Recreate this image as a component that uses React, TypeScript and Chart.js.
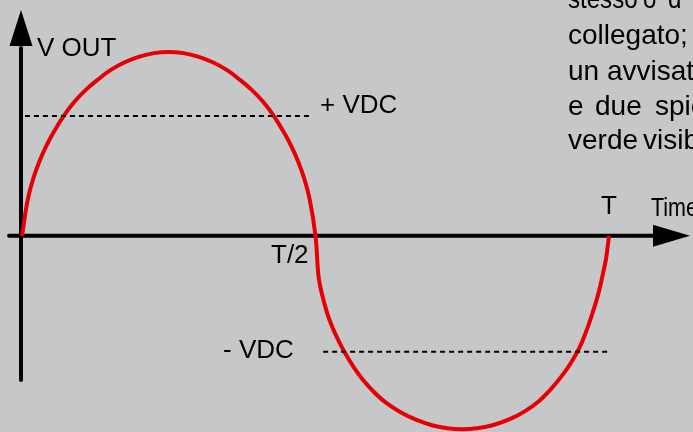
import React, { useEffect, useRef } from "react";
import { Chart, registerables } from "chart.js";

Chart.register(...registerables);

// Time in fractions of the period T, voltage normalised to the positive peak (V OUT = 1)
const waveT = [
  0, 0.01, 0.02, 0.03, 0.04, 0.05, 0.07, 0.09, 0.11, 0.13, 0.15, 0.175, 0.2, 0.225, 0.25,
  0.275, 0.3, 0.325, 0.35, 0.37, 0.39, 0.41, 0.43, 0.45, 0.46, 0.47, 0.48, 0.49, 0.5,
  0.505, 0.51, 0.52, 0.53, 0.54, 0.55, 0.565, 0.58, 0.6, 0.62, 0.645, 0.67, 0.7, 0.725, 0.75,
  0.775, 0.8, 0.83, 0.855, 0.88, 0.9, 0.92, 0.935, 0.95, 0.96, 0.97, 0.98, 0.985, 0.99, 0.995, 1.0,
];
const waveV = [
  0, 0.2, 0.32, 0.408, 0.48, 0.542, 0.648, 0.732, 0.798, 0.852, 0.9, 0.944, 0.975, 0.994, 1.0,
  0.994, 0.975, 0.944, 0.9, 0.852, 0.798, 0.732, 0.648, 0.542, 0.48, 0.408, 0.32, 0.2, 0,
  -0.214, -0.302, -0.42, -0.506, -0.574, -0.634, -0.713, -0.778, -0.849, -0.906, -0.958, -0.997, -1.03, -1.045, -1.05,
  -1.045, -1.03, -0.997, -0.956, -0.899, -0.836, -0.759, -0.69, -0.605, -0.528, -0.438, -0.335, -0.273, -0.2, -0.123, 0,
];
const vdcPlus = 0.652;
const vdcMinus = -0.629;
const vdcPlusSpan = [0.005, 0.4935];
const vdcMinusSpan = [0.513, 1.002];
const axisLabels = ["V OUT", "Time"];
const levelLabels = ["+ VDC", "- VDC"];
const tickLabels = ["T/2", "T"];
const paragraphLines = [
  ["stesso", "o", "d"],
  ["collegato;"],
  ["un", "avvisatore"],
  ["e", "due", "spie"],
  ["verde", "visibile"],
];

const BG = "#c6c7c9";
const RED = "#e60005";
const FONT = '"Liberation Sans", Arial, Helvetica, sans-serif';

const overlay = {
  id: "overlay",
  beforeDraw(chart: any) {
    const { ctx, width, height } = chart;
    ctx.save();
    ctx.fillStyle = BG;
    ctx.fillRect(0, 0, width, height);
    ctx.restore();
  },
  beforeDatasetsDraw(chart: any) {
    const { ctx } = chart;
    const xs = chart.scales.x;
    const ys = chart.scales.y;
    ctx.save();
    ctx.strokeStyle = "#000";
    ctx.fillStyle = "#000";
    ctx.lineWidth = 4;
    ctx.lineCap = "round";
    // vertical axis
    const ax = xs.getPixelForValue(-0.0017);
    const yBottom = ys.getPixelForValue(-0.783);
    const yBase = ys.getPixelForValue(1.033);
    const yTip = ys.getPixelForValue(1.228);
    ctx.beginPath();
    ctx.moveTo(ax, yBottom);
    ctx.lineTo(ax, yBase + 2);
    ctx.stroke();
    ctx.beginPath();
    ctx.moveTo(ax, yTip);
    ctx.lineTo(ax - 11.5, yBase);
    ctx.lineTo(ax + 11.5, yBase);
    ctx.closePath();
    ctx.fill();
    // horizontal axis
    const ay = ys.getPixelForValue(0) - 0.3;
    const xLeft = xs.getPixelForValue(-0.022);
    const xBase = xs.getPixelForValue(1.075);
    const xTip = xs.getPixelForValue(1.138);
    ctx.beginPath();
    ctx.moveTo(xLeft, ay);
    ctx.lineTo(xBase + 2, ay);
    ctx.stroke();
    ctx.beginPath();
    ctx.moveTo(xTip, ay);
    ctx.lineTo(xBase, ay - 11);
    ctx.lineTo(xBase, ay + 11);
    ctx.closePath();
    ctx.fill();
    ctx.restore();
  },
  afterDatasetsDraw(chart: any) {
    const { ctx } = chart;
    ctx.save();
    ctx.fillStyle = "#000";
    ctx.textBaseline = "alphabetic";
    ctx.textAlign = "left";
    ctx.font = `26px ${FONT}`;
    ctx.fillText(axisLabels[0], 37, 56);
    ctx.fillText(levelLabels[0], 320, 113);
    ctx.fillText(levelLabels[1], 223, 358);
    ctx.fillText(tickLabels[0], 271, 263);
    ctx.fillText(tickLabels[1], 601, 214);
    // condensed "Time"
    ctx.save();
    ctx.translate(651, 216);
    ctx.scale(0.86, 1);
    ctx.font = `25px ${FONT}`;
    ctx.fillText(axisLabels[1], 0, 0);
    ctx.restore();
    // cut-off paragraph text
    ctx.font = `28px ${FONT}`;
    const baselines = [8, 44, 80, 115, 149];
    const wordX = [
      [568, 643, 668],
      [568],
      [568, 607],
      [568, 595, 655],
      [568, 643],
    ];
    const squeeze = [0.86, 1, 1, 1, 1];
    paragraphLines.forEach((words, i) => {
      words.forEach((w, j) => {
        ctx.save();
        ctx.translate(wordX[i][j], baselines[i]);
        ctx.scale(squeeze[i], 1);
        ctx.fillText(w, 0, 0);
        ctx.restore();
      });
    });
    ctx.restore();
  },
};

export default function App() {
  const ref = useRef<HTMLCanvasElement | null>(null);
  useEffect(() => {
    if (!ref.current) return;
    const wave = waveT.map((t, i) => ({ x: t, y: waveV[i] }));
    const chart = new Chart(ref.current, {
      type: "line",
      data: {
        datasets: [
          {
            data: vdcPlusSpan.map((t) => ({ x: t, y: vdcPlus })),
            borderColor: "#000",
            borderWidth: 2,
            borderDash: [5, 4],
            pointRadius: 0,
            fill: false,
          },
          {
            data: vdcMinusSpan.map((t) => ({ x: t, y: vdcMinus })),
            borderColor: "#000",
            borderWidth: 2,
            borderDash: [5, 4],
            pointRadius: 0,
            fill: false,
          },
          {
            data: wave,
            borderColor: RED,
            borderWidth: 4,
            pointRadius: 0,
            fill: false,
            tension: 0.4,
          },
        ],
      },
      options: {
        responsive: false,
        animation: false,
        events: [],
        layout: { padding: 0 },
        plugins: { legend: { display: false }, tooltip: { enabled: false } },
        scales: {
          x: { type: "linear", display: false, min: -22 / 587, max: 671 / 587 },
          y: { type: "linear", display: false, min: -196 / 184, max: 236 / 184 },
        },
      },
      plugins: [overlay],
    } as any);
    return () => chart.destroy();
  }, []);
  return (
    <div style={{ position: "fixed", left: 0, top: 0, width: 693, height: 432, background: BG }}>
      <canvas ref={ref} width={693} height={432} style={{ display: "block" }} />
    </div>
  );
}
